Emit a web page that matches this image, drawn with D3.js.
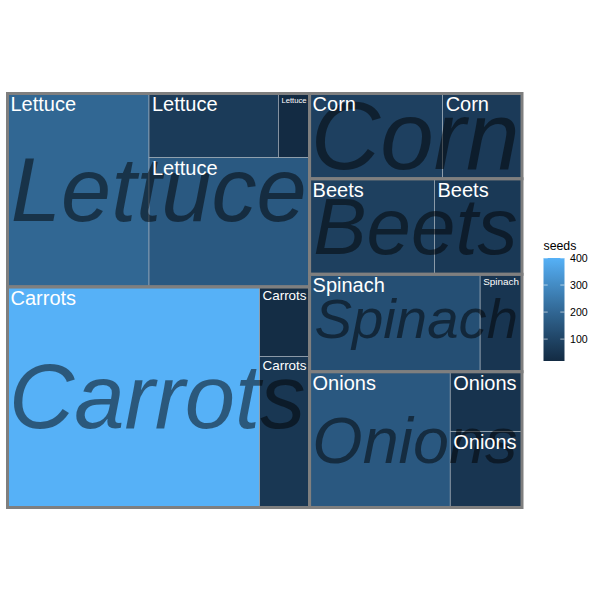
<!DOCTYPE html>
<html><head><meta charset="utf-8">
<script src="https://cdn.jsdelivr.net/npm/d3@7"></script>
<style>html,body{margin:0;padding:0;background:#fff;} svg{display:block;}</style>
</head><body>
<script>
// ---- data ----
const crops = ["Lettuce","Lettuce","Lettuce","Lettuce","Carrots","Carrots","Carrots","Corn","Corn","Beets","Beets","Spinach","Spinach","Onions","Onions","Onions"];
const area  = [275, 209, 83, 20, 559, 76, 35, 114, 68, 120, 84, 167, 41, 192, 55, 43];
const seeds = [200, 160, 70, 19, 400, 56, 24, 87, 68, 85, 65, 131, 52, 158, 52, 45];
const legendTicks = [100, 200, 300, 400];
const legendTitle = "seeds";

// ---- layout ----
const width = 600, height = 600;
const X0 = 7.5, X1 = 522, Y0 = 93.5, Y1 = 507.5;
const TW = X1 - X0, TH = Y1 - Y0;
const U = 1000; // layout is computed in a unit square, then stretched to the panel

const svg = d3.select("body").append("svg").attr("width", width).attr("height", height);

const groupNames = Array.from(new Set(crops));
const data = {name: "root", children: groupNames.map(g => ({
  name: g,
  children: crops.map((c, i) => ({crop: c, area: area[i], seeds: seeds[i]})).filter(d => d.crop === g)
}))};

const root = d3.hierarchy(data).sum(d => d.area || 0).sort((a, b) => b.value - a.value);
d3.treemap().size([U, U]).tile(d3.treemapSquarify.ratio(1)).round(false)(root);

const sx = d3.scaleLinear().domain([0, U]).range([X0, X1]);
const sy = d3.scaleLinear().domain([0, U]).range([Y1, Y0]); // flipped: layout starts bottom-left

function box(n) {
  return {x0: sx(n.x0), x1: sx(n.x1), y0: sy(n.y1), y1: sy(n.y0)};
}

const sMin = d3.min(seeds), sMax = d3.max(seeds);
const color = d3.scaleLinear().domain([sMin, sMax]).range(["#132B43", "#56B1F7"]).interpolate(d3.interpolateLab);

const FONT = "'Liberation Sans', Arial, Helvetica, sans-serif";
const ctx = document.createElement("canvas").getContext("2d");

const leaves = root.leaves();
const groups = root.children;

// tiles
svg.append("g").selectAll("rect").data(leaves).join("rect")
  .each(function(d){ const b = box(d); d3.select(this).attr("x", b.x0).attr("y", b.y0).attr("width", b.x1-b.x0).attr("height", b.y1-b.y0); })
  .attr("fill", d => color(d.data.seeds))
  .attr("stroke", "#a9b4be").attr("stroke-width", 0.6);

// group borders
svg.append("g").selectAll("rect").data(groups).join("rect")
  .each(function(d){ const b = box(d); d3.select(this).attr("x", b.x0).attr("y", b.y0).attr("width", b.x1-b.x0).attr("height", b.y1-b.y0); })
  .attr("fill", "none").attr("stroke", "#7f7f7f").attr("stroke-width", 3);

// group text (italic, grown to fit, centred)
const gText = svg.append("g");
groups.forEach(g => {
  const b = box(g);
  const w = b.x1 - b.x0, h = b.y1 - b.y0;
  ctx.font = "italic 100px " + FONT;
  const m = ctx.measureText(g.data.name);
  const inkW = (m.actualBoundingBoxLeft + m.actualBoundingBoxRight) / 100;
  const inkH = (m.actualBoundingBoxAscent + m.actualBoundingBoxDescent) / 100;
  const fs = Math.min((w - 12) / inkW, (h - 12) / inkH);
  const k = fs / 100;
  const cx = (b.x0 + b.x1) / 2, cy = (b.y0 + b.y1) / 2;
  const x = cx - (m.actualBoundingBoxRight - m.actualBoundingBoxLeft) * k / 2;
  const y = cy + (m.actualBoundingBoxAscent - m.actualBoundingBoxDescent) * k / 2;
  gText.append("text").attr("x", x).attr("y", y)
    .attr("font-family", FONT).attr("font-style", "italic").attr("font-size", fs)
    .attr("fill", "#000").attr("fill-opacity", 0.5)
    .text(g.data.name);
});

// subgroup labels (white, top-left, shrunk to fit)
const lText = svg.append("g");
leaves.forEach(d => {
  const b = box(d);
  const w = b.x1 - b.x0, h = b.y1 - b.y0;
  ctx.font = "100px " + FONT;
  const adv = ctx.measureText(d.data.crop).width / 100;
  const fs = Math.min(20, (w - 6) / adv, (h - 6) / 0.95);
  lText.append("text")
    .attr("x", b.x0 + 3).attr("y", b.y0 + 3.6 + 0.716 * fs)
    .attr("font-family", FONT).attr("font-size", fs)
    .attr("fill", "#fff").text(d.data.crop);
});

// ---- legend ----
const LX = 543.5, LW = 21, LTop = 258, LBot = 361;
const ly = d3.scaleLinear().domain([sMin, sMax]).range([LBot, LTop]);
const defs = svg.append("defs");
const grad = defs.append("linearGradient").attr("id", "lg").attr("x1", 0).attr("y1", 1).attr("x2", 0).attr("y2", 0);
d3.range(0, 1.0001, 0.05).forEach(t => {
  grad.append("stop").attr("offset", t).attr("stop-color", color(sMin + t * (sMax - sMin)));
});
const leg = svg.append("g");
leg.append("text").attr("x", LX).attr("y", 250).attr("font-family", FONT).attr("font-size", 12.3).attr("fill", "#000").text(legendTitle);
leg.append("rect").attr("x", LX).attr("y", LTop).attr("width", LW).attr("height", LBot - LTop).attr("fill", "url(#lg)");
legendTicks.forEach(v => {
  leg.append("line").attr("x1", LX).attr("x2", LX + LW / 5).attr("y1", ly(v)).attr("y2", ly(v)).attr("stroke", "#fff").attr("stroke-width", 0.6);
  leg.append("line").attr("x1", LX + LW - LW / 5).attr("x2", LX + LW).attr("y1", ly(v)).attr("y2", ly(v)).attr("stroke", "#fff").attr("stroke-width", 0.6);
});
const axis = d3.axisRight(ly).tickValues(legendTicks).tickSize(0).tickPadding(5.5);
const ag = leg.append("g").attr("transform", `translate(${LX + LW},0)`).call(axis);
ag.select(".domain").remove();
ag.selectAll("text").attr("font-family", FONT).attr("font-size", 10.6).attr("fill", "#000");
</script>
</body></html>
